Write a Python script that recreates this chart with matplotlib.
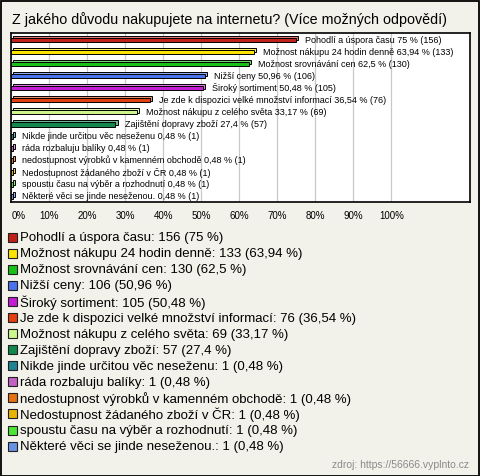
import numpy as np
import matplotlib
matplotlib.use("Agg")
import matplotlib.pyplot as plt
from matplotlib.patches import Rectangle
from matplotlib import colors as mcolors

plt.rcParams['font.family'] = ['Liberation Sans', 'DejaVu Sans']

title = "Z jakého důvodu nakupujete na internetu? (Více možných odpovědí)"
labels = [
    "Pohodlí a úspora času",
    "Možnost nákupu 24 hodin denně",
    "Možnost srovnávání cen",
    "Nižší ceny",
    "Široký sortiment",
    "Je zde k dispozici velké množství informací",
    "Možnost nákupu z celého světa",
    "Zajištění dopravy zboží",
    "Nikde jinde určitou věc neseženu",
    "ráda rozbaluju balíky",
    "nedostupnost výrobků v kamenném obchodě",
    "Nedostupnost žádaného zboží v ČR",
    "spoustu času na výběr a rozhodnutí",
    "Některé věci se jinde neseženou.",
]
counts = [156, 133, 130, 106, 105, 76, 69, 57, 1, 1, 1, 1, 1, 1]
percents = ["75", "63,94", "62,5", "50,96", "50,48", "36,54", "33,17", "27,4",
            "0,48", "0,48", "0,48", "0,48", "0,48", "0,48"]
bar_colors = ["#c0221a", "#fce400", "#18c018", "#4a72ec", "#c41cd4", "#e2400e",
              "#ccf58a", "#12884e", "#1e8494", "#c460c4", "#e47010", "#e8b400",
              "#4ce436", "#6892e4"]
ticks = list(range(0, 101, 10))
source = "zdroj: https://56666.vyplnto.cz"

values = [float(p.replace(",", ".")) for p in percents]
bg = "#f3f2ea"

fig = plt.figure(figsize=(4.8, 4.77), dpi=100)
fig.patch.set_facecolor(bg)
W, H = 480, 477

ax = fig.add_axes([11.3 / W, 1 - 202.7 / H, (470 - 11.3) / W, (202.7 - 34.3) / H])
ax.set_facecolor("white")
ax.set_xlim(0, (470 - 11.3) / 3.8)
ax.set_ylim(len(labels) - 0.5, -0.5)

y = np.arange(len(labels))
dx, dy = 0.55, 0.16
light = [tuple(min(1, c * 0.6 + 0.4) for c in mcolors.to_rgb(col)) for col in bar_colors]
ax.barh(y + 0.06 - dy, values, height=0.38, left=dx, color=light,
        edgecolor="black", linewidth=0.7, zorder=3)
ax.barh(y + 0.06, values, height=0.38, color=bar_colors,
        edgecolor="black", linewidth=0.7, zorder=4)
for i, v in enumerate(values):
    ax.text(v + 2.4, i, f"{labels[i]} {percents[i]} % ({counts[i]})",
            fontsize=6.5, va="center", ha="left", zorder=5)

ax.set_xticks(ticks)
ax.set_xticklabels([f"{t}%" for t in ticks], fontsize=7)
ax.get_xticklabels()[0].set_horizontalalignment("left")
ax.set_yticks([])
ax.tick_params(axis="x", length=0, pad=6)
ax.grid(axis="x", color="#c8c8c8", linewidth=0.9, zorder=0)
for s in ax.spines.values():
    s.set_color("black")
    s.set_linewidth(1.2)

fig.text(12 / W, 1 - 20 / H, title, fontsize=10.3, ha="left", va="center")

for i, lab in enumerate(labels):
    yc = 238.3 + i * 16.06
    fig.patches.append(Rectangle((8 / W, 1 - (yc + 4.5) / H), 9 / W, 9 / H,
                                 transform=fig.transFigure, facecolor=bar_colors[i],
                                 edgecolor="#202020", linewidth=0.8))
    fig.text(20.5 / W, 1 - yc / H, f"{lab}: {counts[i]} ({percents[i]} %)",
             fontsize=9.5, ha="left", va="center")

fig.text(469 / W, 1 - 465 / H, source, fontsize=7.5, color="#8a8a8a",
         ha="right", va="center")

fig.patches.append(Rectangle((0.5 / W, 0.5 / H), (W - 2) / W, (H - 2) / H,
                             transform=fig.transFigure, fill=False,
                             edgecolor="black", linewidth=1.3))

fig.savefig("out.png", dpi=100, facecolor=bg)
